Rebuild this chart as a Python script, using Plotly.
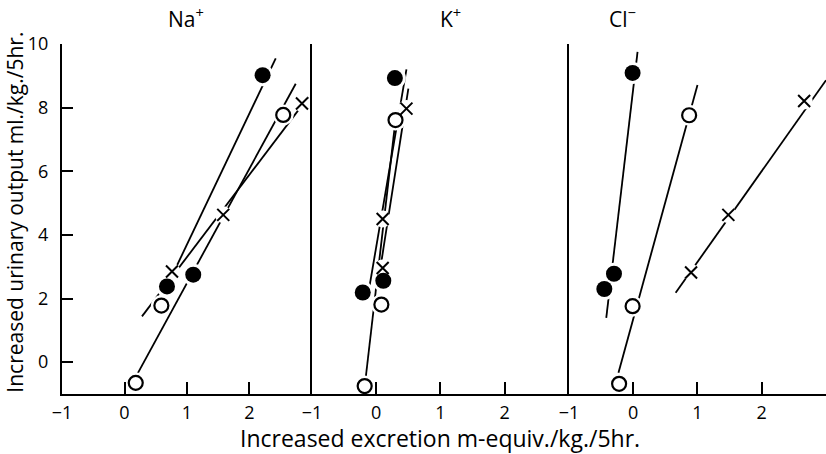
import plotly.graph_objects as go

# ---------------- data ----------------
panels = ["Na<sup>+</sup>", "K<sup>+</sup>", "Cl<sup>−</sup>"]

# Na+
na_filled_x = [0.68, 1.10, 2.21]
na_filled_y = [2.38, 2.75, 9.02]
na_open_x = [0.18, 0.59, 2.54]
na_open_y = [-0.65, 1.78, 7.77]
na_cross_x = [0.76, 1.58, 2.84]
na_cross_y = [2.85, 4.63, 8.13]
na_filled_fit_x = [0.66, 2.42]
na_filled_fit_y = [2.30, 9.55]
na_open_fit_x = [0.17, 2.74]
na_open_fit_y = [-0.50, 8.75]
na_cross_fit_x = [0.28, 2.94]
na_cross_fit_y = [1.44, 8.33]

# K+
k_filled_x = [-0.21, 0.11, 0.29]
k_filled_y = [2.19, 2.56, 8.93]
k_open_x = [-0.18, 0.08, 0.30]
k_open_y = [-0.75, 1.81, 7.61]
k_cross_x = [0.10, 0.10, 0.47]
k_cross_y = [2.96, 4.50, 7.97]
k_filled_fit_x = [-0.12, 0.47]
k_filled_fit_y = [2.20, 9.20]
k_open_fit_x = [-0.17, 0.30]
k_open_fit_y = [-0.60, 7.61]
k_cross_fit_x = [0.06, 0.50]
k_cross_fit_y = [2.90, 8.60]

# Cl-
cl_filled_x = [-0.45, -0.30, -0.01]
cl_filled_y = [2.30, 2.78, 9.09]
cl_open_x = [-0.22, -0.01, 0.87]
cl_open_y = [-0.68, 1.76, 7.76]
cl_cross_x = [0.90, 1.48, 2.66]
cl_cross_y = [2.82, 4.63, 8.21]
cl_filled_fit_x = [-0.42, 0.067]
cl_filled_fit_y = [1.39, 9.75]
cl_open_fit_x = [-0.23, 1.00]
cl_open_fit_y = [-0.33, 8.71]
cl_cross_fit_x = [0.66, 3.00]
cl_cross_fit_y = [2.18, 8.86]

x_tickvals = [-1, 0, 1, 2]
x_ticktext = ["−1", "0", "1", "2"]
y_tickvals = [0, 2, 4, 6, 8, 10]
y_ticktext = ["0", "2", "4", "6", "8", "10"]

x_title = "Increased excretion m-equiv./kg./5hr."
y_title = "Increased urinary output ml./kg./5hr."

# ---------------- figure ----------------
FONT = "Open Sans"
fig = go.Figure()

panel_data = [
    dict(fx=na_filled_x, fy=na_filled_y, ox=na_open_x, oy=na_open_y, cx=na_cross_x, cy=na_cross_y,
         ffx=na_filled_fit_x, ffy=na_filled_fit_y, ofx=na_open_fit_x, ofy=na_open_fit_y,
         cfx=na_cross_fit_x, cfy=na_cross_fit_y),
    dict(fx=k_filled_x, fy=k_filled_y, ox=k_open_x, oy=k_open_y, cx=k_cross_x, cy=k_cross_y,
         ffx=k_filled_fit_x, ffy=k_filled_fit_y, ofx=k_open_fit_x, ofy=k_open_fit_y,
         cfx=k_cross_fit_x, cfy=k_cross_fit_y),
    dict(fx=cl_filled_x, fy=cl_filled_y, ox=cl_open_x, oy=cl_open_y, cx=cl_cross_x, cy=cl_cross_y,
         ffx=cl_filled_fit_x, ffy=cl_filled_fit_y, ofx=cl_open_fit_x, ofy=cl_open_fit_y,
         cfx=cl_cross_fit_x, cfy=cl_cross_fit_y),
]

line_style = dict(color="black", width=1.8)
for i, d in enumerate(panel_data):
    xa = "x" if i == 0 else f"x{i+1}"
    ya = "y" if i == 0 else f"y{i+1}"
    # fitted lines
    for lx, ly in [(d["ffx"], d["ffy"]), (d["ofx"], d["ofy"]), (d["cfx"], d["cfy"])]:
        fig.add_trace(go.Scatter(x=lx, y=ly, mode="lines", line=line_style,
                                 xaxis=xa, yaxis=ya, showlegend=False, hoverinfo="skip"))
    # white halos to create the gaps around the markers
    for px, py, s in [(d["fx"], d["fy"], 22), (d["ox"], d["oy"], 21), (d["cx"], d["cy"], 17)]:
        fig.add_trace(go.Scatter(x=px, y=py, mode="markers",
                                 marker=dict(symbol="circle", size=s, color="white", line=dict(width=0)),
                                 xaxis=xa, yaxis=ya, showlegend=False, hoverinfo="skip"))
    # markers
    fig.add_trace(go.Scatter(x=d["fx"], y=d["fy"], mode="markers",
                             marker=dict(symbol="circle", size=16, color="black", line=dict(width=0)),
                             xaxis=xa, yaxis=ya, showlegend=False))
    fig.add_trace(go.Scatter(x=d["ox"], y=d["oy"], mode="markers",
                             marker=dict(symbol="circle", size=14, color="white",
                                         line=dict(color="black", width=2.2)),
                             xaxis=xa, yaxis=ya, showlegend=False))
    fig.add_trace(go.Scatter(x=d["cx"], y=d["cy"], mode="markers",
                             marker=dict(symbol="x-thin", size=12, color="black",
                                         line=dict(color="black", width=2)),
                             xaxis=xa, yaxis=ya, showlegend=False))

domains = [[0.0, 0.3272], [0.3272, 0.6636], [0.6636, 1.0]]
tickfont = dict(family=FONT, size=18, color="black")
layout = dict(
    width=826, height=454,
    margin=dict(l=62, r=0, t=44, b=60),
    plot_bgcolor="white", paper_bgcolor="white",
    showlegend=False,
)
for i in range(3):
    xk = "xaxis" if i == 0 else f"xaxis{i+1}"
    yk = "yaxis" if i == 0 else f"yaxis{i+1}"
    layout[xk] = dict(
        domain=domains[i], range=[-1, 3], anchor="y" if i == 0 else f"y{i+1}",
        showline=True, linecolor="black", linewidth=2.2,
        ticks="inside", ticklen=12, tickwidth=2, tickcolor="black",
        tickvals=x_tickvals, ticktext=x_ticktext, tickfont=tickfont,
        ticklabelstandoff=1,
        showgrid=False, zeroline=False, fixedrange=True,
    )
    layout[yk] = dict(
        range=[-1, 10], anchor="x" if i == 0 else f"x{i+1}",
        showline=True, linecolor="black", linewidth=2.2,
        showgrid=False, zeroline=False, fixedrange=True,
    )
    if i == 0:
        layout[yk].update(ticks="inside", ticklen=11, tickwidth=2, tickcolor="black",
                          tickvals=y_tickvals, ticktext=y_ticktext, tickfont=tickfont,
                          ticklabelstandoff=8)
    else:
        layout[yk].update(matches="y", showticklabels=False, ticks="")

fig.update_layout(**layout)

# panel titles
title_px = [0.162, 0.508, 0.734]
for t, xp in zip(panels, title_px):
    fig.add_annotation(text=t, xref="paper", yref="paper", x=xp, y=1.077,
                       xanchor="center", yanchor="middle", showarrow=False,
                       font=dict(family=FONT, size=21, color="black"))

# axis titles
fig.add_annotation(text=x_title, xref="paper", yref="paper", x=0.495, y=-0.127,
                   xanchor="center", yanchor="middle", showarrow=False,
                   font=dict(family=FONT, size=23, color="black"))
fig.add_annotation(text=y_title, xref="paper", yref="paper", x=-0.062, y=0.52,
                   xanchor="center", yanchor="middle", showarrow=False, textangle=-90,
                   font=dict(family=FONT, size=21, color="black"))

fig.write_html("out.html", config={"displayModeBar": False},
               post_script="document.body.style.margin='0';")
